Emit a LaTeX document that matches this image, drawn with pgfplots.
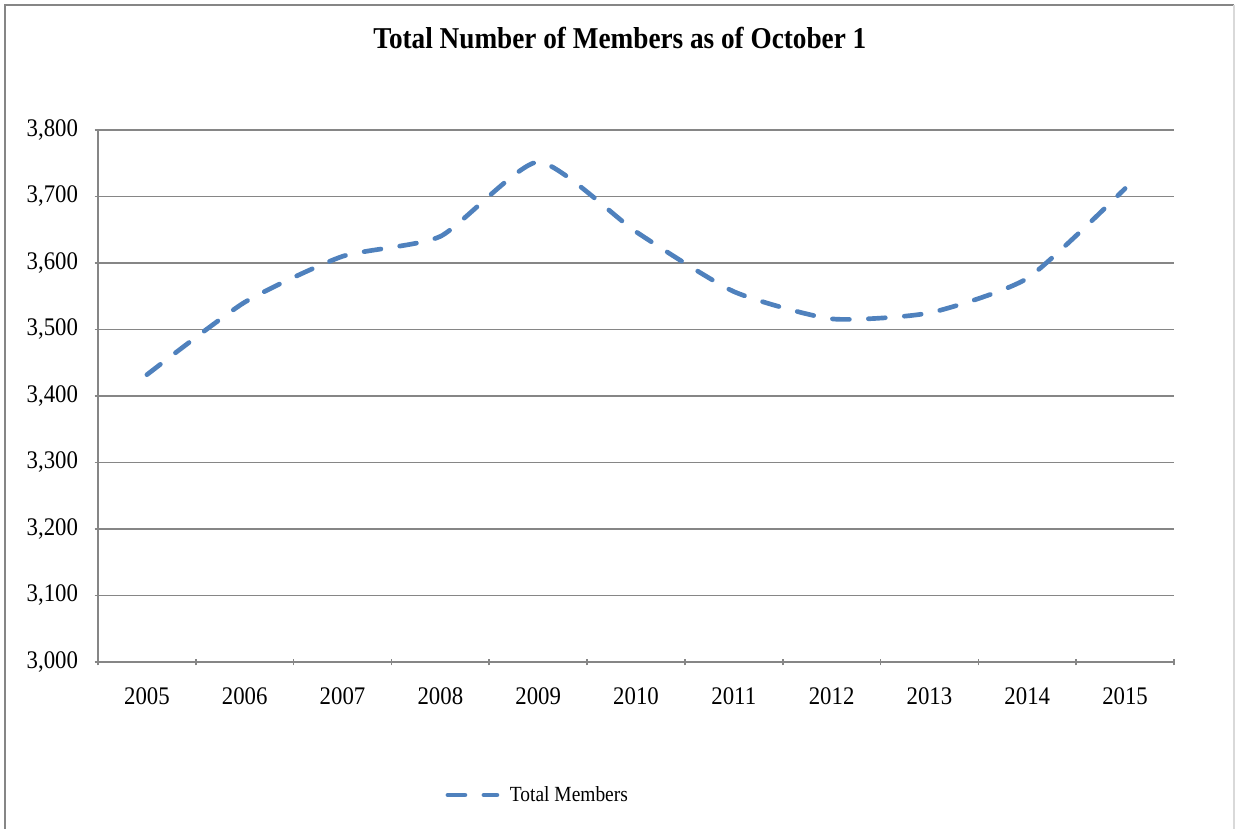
\documentclass[border=0pt]{standalone}
\usepackage{fontspec}
\setmainfont{Liberation Serif}[FakeStretch=0.9]
\usepackage{pgfplots}
\pgfplotsset{compat=1.18}
\definecolor{lineblue}{HTML}{4F81BD}
\definecolor{gridgray}{HTML}{868686}

\begin{document}
\begin{tikzpicture}
\begin{axis}[
  scale only axis,
  width=807pt, height=399pt,
  xmin=-0.5, xmax=10.5,
  ymin=3000, ymax=3800,
  ytick={3000,3100,...,3800},
  xtick={0,...,10},
  xticklabels={2005,2006,2007,2008,2009,2010,2011,2012,2013,2014,2015},
  minor xtick={-0.5,0.5,...,10.5},
  major x tick style={draw=none},
  minor x tick style={draw=gridgray, line width=1.2pt},
  y tick style={draw=gridgray, line width=1.2pt},
  tick align=outside,
  major tick length=5pt, minor tick length=5pt,
  axis lines=left,
  axis line style={-, draw=gridgray, line width=1.3pt},
  ymajorgrids=true,
  grid style={draw=gridgray, line width=1.3pt},
  tick label style={font=\fontsize{19}{21}\selectfont, black},
  yticklabel style={xshift=-9pt},
  xticklabel style={yshift=-13pt},
  /pgf/number format/.cd, 1000 sep={,}, assume math mode=true, /tikz/.cd,
  title={Total Number of Members as of October 1},
  title style={at={(0.485,1)}, anchor=base, yshift=54.75pt,
    font=\fontsize{22.7}{25}\selectfont\bfseries},
  legend style={at={(0.409,-0.25)}, anchor=center, draw=none,
    font=\fontsize{16.2}{18}\selectfont, column sep=6pt},
  legend image code/.code={\draw[#1] (0pt,0pt) -- (36.75pt,0pt);},
]
\addplot[lineblue, line width=3.5pt, line cap=round, smooth, tension=0.35,
  dash pattern=on 12.75pt off 14.25pt] coordinates {
  (0,3432) (1,3541) (2,3610) (3,3640) (4,3752) (5,3647)
  (6,3557) (7,3516) (8,3525) (9,3577) (10,3712)
};
\addlegendentry{Total Members}
\end{axis}
\path (-73.5pt,-125.25pt) rectangle (853.5pt,496.5pt);
\draw[gridgray, line width=1.2pt] (-69.75pt,-125.25pt) -- (-69.75pt,492.75pt) -- (852pt,492.75pt);
\draw[gray!30, line width=1pt] (852pt,492.75pt) -- (852pt,-125.25pt);
\end{tikzpicture}
\end{document}
